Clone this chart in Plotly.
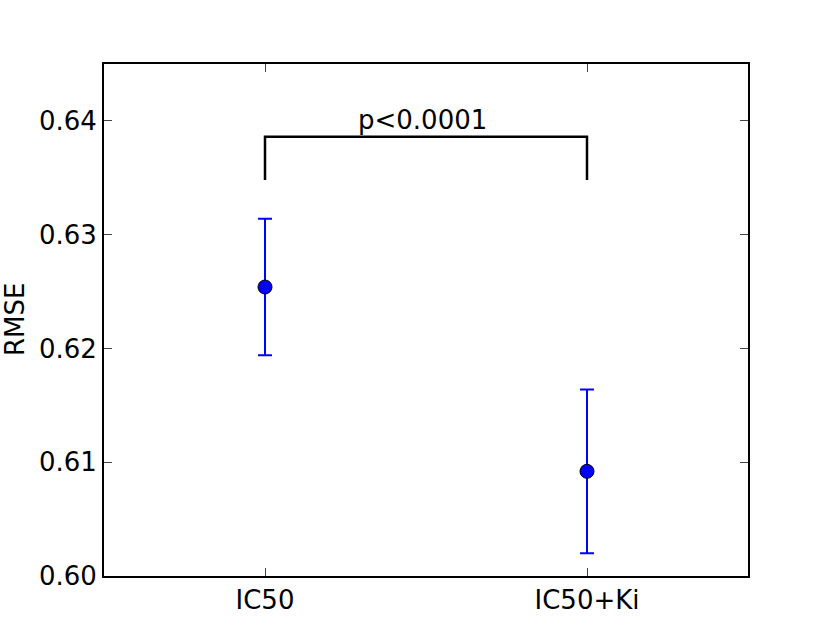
import plotly.graph_objects as go

categories = ["IC50", "IC50+Ki"]
rmse = [0.6254, 0.6092]
err = [0.0060, 0.0072]
bracket_top = 0.6386
bracket_bottom = 0.6348
p_label = "p<0.0001"
y_title = "RMSE"
y_ticks = [0.60, 0.61, 0.62, 0.63, 0.64]
y_tick_labels = ["0.60", "0.61", "0.62", "0.63", "0.64"]

xpos = list(range(len(categories)))
FONT = "DejaVu Sans"
FS = 26

fig = go.Figure()
fig.add_trace(go.Scatter(
    x=xpos, y=rmse, mode="markers",
    marker=dict(color="#0000ff", size=14, line=dict(color="black", width=1)),
    error_y=dict(type="data", array=err, color="#0000ff", thickness=2, width=7),
    showlegend=False, hoverinfo="skip",
))
fig.add_trace(go.Scatter(
    x=[xpos[0], xpos[0], xpos[1], xpos[1]],
    y=[bracket_bottom, bracket_top, bracket_top, bracket_bottom],
    mode="lines", line=dict(color="black", width=2.5),
    showlegend=False, hoverinfo="skip",
))
fig.add_annotation(
    x=(xpos[0] + xpos[1]) / 2, y=bracket_top, text=p_label, showarrow=False,
    xshift=-4, yanchor="bottom", yshift=0, font=dict(family=FONT, size=FS, color="black"),
)
fig.add_annotation(
    x=0, y=0.5, xref="paper", yref="paper", text=y_title, showarrow=False,
    textangle=-90, xanchor="center", yanchor="middle", xshift=-89,
    font=dict(family=FONT, size=FS, color="black"),
)

axis_common = dict(
    showline=True, linecolor="black", linewidth=2, mirror="allticks",
    ticks="inside", ticklen=8, tickwidth=1, tickcolor="#444444",
    showgrid=False, zeroline=False, automargin=False,
    tickfont=dict(family=FONT, size=FS, color="black"),
)
fig.update_xaxes(range=[-0.5, 1.5], tickvals=xpos, ticktext=categories, **axis_common)
fig.update_yaxes(range=[0.600, 0.645], tickvals=y_ticks, ticktext=y_tick_labels, **axis_common)
fig.update_layout(
    width=831, height=640,
    margin=dict(l=104, r=83, t=64, b=64),
    plot_bgcolor="white", paper_bgcolor="white",
    font=dict(family=FONT, size=FS, color="black"),
)
fig.write_html("out.html", config={"displayModeBar": False},
               post_script="document.body.style.margin='0';document.body.style.overflow='hidden';")
